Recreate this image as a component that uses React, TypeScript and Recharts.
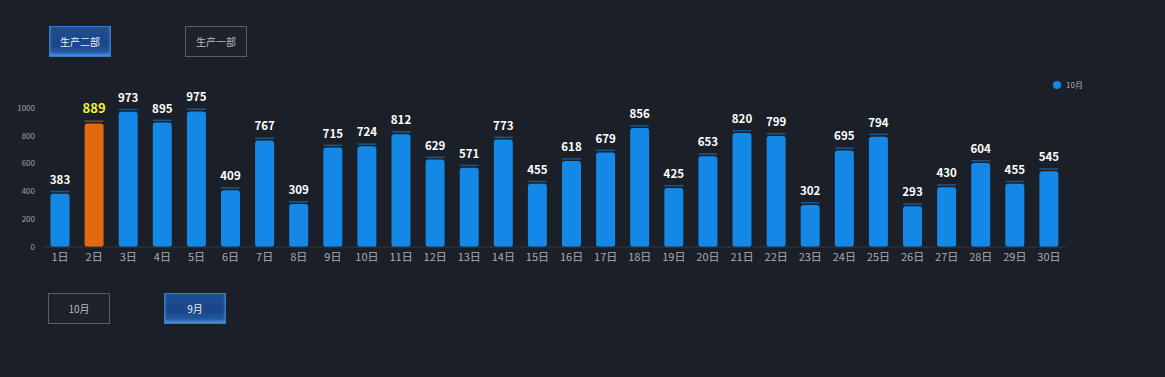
import { BarChart, Bar, XAxis, YAxis, Cell, LabelList } from "recharts";

const days = [
  "1日", "2日", "3日", "4日", "5日", "6日", "7日", "8日", "9日", "10日",
  "11日", "12日", "13日", "14日", "15日", "16日", "17日", "18日", "19日", "20日",
  "21日", "22日", "23日", "24日", "25日", "26日", "27日", "28日", "29日", "30日",
];
const values = [
  383, 889, 973, 895, 975, 409, 767, 309, 715, 724,
  812, 629, 571, 773, 455, 618, 679, 856, 425, 653,
  820, 799, 302, 695, 794, 293, 430, 604, 455, 545,
];
const yTicks = [0, 200, 400, 600, 800, 1000];
const highlightIndex = 1;

const BLUE = "#1488e6";
const ORANGE = "#e2690f";

const data = days.map((d, i) => ({ day: d, value: values[i] }));

function CapBar(props: any) {
  const { x, y, width, height, fill } = props;
  if (!height) return null;
  return (
    <g>
      <rect x={x} y={y - 3} width={width} height={1.5} fill={fill} opacity={0.55} />
      <rect x={x} y={y} width={width} height={height} rx={3} ry={3} fill={fill} />
    </g>
  );
}

function ValueLabel(props: any) {
  const { x, y, width, value, index } = props;
  const hi = index === highlightIndex;
  return (
    <text
      x={x + width / 2}
      y={y - 10}
      textAnchor="middle"
      fill={hi ? "#f4f23a" : "#ffffff"}
      fontSize={hi ? 13 : 11.5}
      fontWeight="bold"
    >
      {value}
    </text>
  );
}

function Btn({ left, top, text, active }: { left: number; top: number; text: string; active: boolean }) {
  return (
    <div
      style={{
        position: "absolute",
        left,
        top,
        width: 62,
        height: 31,
        boxSizing: "border-box",
        border: active ? "1px solid #3f78c4" : "1px solid #5a5e66",
        background: active ? "linear-gradient(180deg,#1e4f93 0%,#1a4586 60%,#2a62ad 100%)" : "#1e222a",
        boxShadow: active ? "inset 0 -2px 3px #4f8fe0" : "none",
        color: active ? "#e8eefa" : "#b7bac0",
        fontSize: 10,
        lineHeight: "29px",
        textAlign: "center",
      }}
    >
      {text}
    </div>
  );
}

export default function App() {
  return (
    <div
      style={{
        position: "fixed",
        left: 0,
        top: 0,
        width: 1165,
        height: 377,
        background: "#1b1f27",
        fontFamily: "'Noto Sans CJK SC', 'Noto Sans', sans-serif",
        overflow: "hidden",
      }}
    >
      <Btn left={49} top={26} text="生产二部" active />
      <Btn left={185} top={26} text="生产一部" active={false} />
      <Btn left={48} top={293} text="10月" active={false} />
      <Btn left={164} top={293} text="9月" active />
      {/* legend */}
      <div style={{ position: "absolute", left: 1053, top: 79, display: "flex", alignItems: "center", gap: 5 }}>
        <span style={{ width: 8, height: 8, borderRadius: 4, background: BLUE, display: "inline-block" }} />
        <span style={{ color: "#b0b4bb", fontSize: 8 }}>10月</span>
      </div>
      <div style={{ position: "absolute", left: 0, top: 0 }}>
        <BarChart
          width={1165}
          height={377}
          data={data}
          margin={{ top: 108, right: 99, left: 0, bottom: 110 }}
          barCategoryGap="22%"
        >
          <XAxis
            dataKey="day"
            interval={0}
            tickLine={false}
            axisLine={{ stroke: "#343944" }}
            tick={{ fill: "#a9adb4", fontSize: 11 }}
            tickSize={4}
            height={20}
          />
          <YAxis
            width={43}
            domain={[0, 1000]}
            ticks={yTicks}
            tickLine={false}
            axisLine={false}
            tick={{ fill: "#a0a4ab", fontSize: 8 }}
          />
          <Bar dataKey="value" name="10月" fill={BLUE} shape={<CapBar />} isAnimationActive={false}>
            {data.map((_, i) => (
              <Cell key={i} fill={i === highlightIndex ? ORANGE : BLUE} />
            ))}
            <LabelList dataKey="value" content={<ValueLabel />} />
          </Bar>
        </BarChart>
      </div>
    </div>
  );
}
